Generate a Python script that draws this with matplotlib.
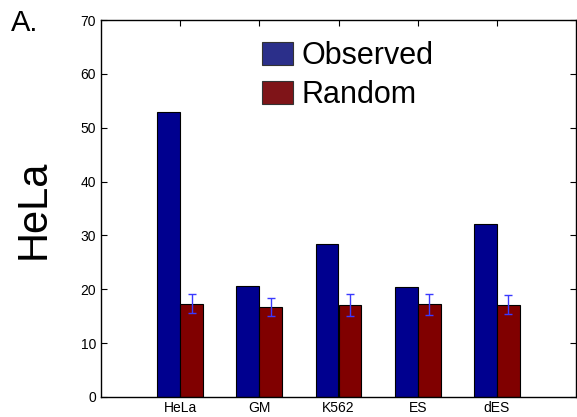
import matplotlib
matplotlib.use("Agg")
import matplotlib.pyplot as plt
from matplotlib.patches import Patch
import numpy as np

plt.rcParams["font.family"] = ["Liberation Sans", "DejaVu Sans"]

cell_lines = ["HeLa", "GM", "K562", "ES", "dES"]
observed = [53.0, 20.6, 28.5, 20.4, 32.1]
random_mean = [17.3, 16.7, 17.1, 17.2, 17.1]
random_err = [1.75, 1.7, 2.1, 2.0, 1.75]
y_ticks = [0, 10, 20, 30, 40, 50, 60, 70]

BLUE = "#00008f"
RED = "#800000"


def main() -> None:
    fig = plt.figure(figsize=(5.77, 4.17), dpi=100)
    ax = fig.add_axes([101 / 577, 20 / 417, 475 / 577, 377 / 417])

    x = np.arange(1, len(cell_lines) + 1)
    w = 0.29
    ax.bar(x - w / 2, observed, w, color=BLUE, edgecolor="black", linewidth=0.8)
    ax.bar(x + w / 2, random_mean, w, color=RED, edgecolor="black", linewidth=0.8)
    ax.errorbar(x + w / 2, random_mean, yerr=random_err, fmt="none",
                ecolor="#3a3aff", elinewidth=1.0, capsize=3, capthick=1.0)

    ax.set_xlim(0, 6)
    ax.set_ylim(0, 70)
    ax.set_xticks(x)
    ax.set_xticklabels(cell_lines, fontsize=10)
    ax.set_yticks(y_ticks)
    ax.tick_params(axis="y", labelsize=10)
    ax.tick_params(direction="in", top=True, right=True, length=4, width=0.8)
    ax.tick_params(axis="x", pad=3)
    for s in ax.spines.values():
        s.set_linewidth(1.0)

    fig.text(34 / 577, 1 - 209 / 417, "HeLa", rotation=90, fontsize=30,
             ha="center", va="center")
    fig.text(11 / 577, 1 - 23 / 417, "A.", fontsize=21, ha="left", va="center")

    handles = [Patch(facecolor="#2b2f8a", edgecolor="#333333", linewidth=0.8),
               Patch(facecolor="#7f1418", edgecolor="#333333", linewidth=0.8)]
    ax.legend(handles, ["Observed", "Random"], loc="upper left",
              bbox_to_anchor=(262 / 577, 1 - 41 / 417), bbox_transform=fig.transFigure,
              frameon=False, fontsize=22, handlelength=1.0, handleheight=0.8,
              handletextpad=0.3, borderpad=0, borderaxespad=0, labelspacing=0.3)

    fig.savefig("out.png", dpi=100)
    plt.close(fig)


if __name__ == "__main__":
    main()
